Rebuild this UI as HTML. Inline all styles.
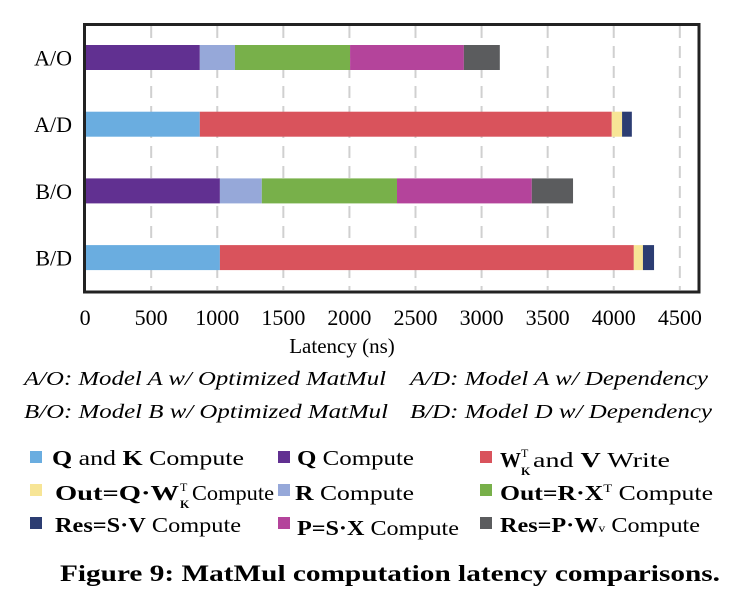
<!DOCTYPE html>
<html><head><meta charset="utf-8"><style>
html,body{margin:0;padding:0;background:#fff;}
svg, svg text{font-family:"Liberation Serif","Times New Roman",serif;}
</style></head><body>
<svg id="chart" width="756" height="606" viewBox="0 0 756 606" font-family="Liberation Serif, serif">
<g id="grid"></g>
<g id="bars"></g>
<rect x="84.5" y="24.5" width="614.5" height="267.5" fill="none" stroke="#222" stroke-width="3"/>
<g id="yl"></g>
<g id="xl"></g>
<text x="342" y="353" font-size="21" text-anchor="middle">Latency (ns)</text>
<g font-style="italic" font-size="20">
<text x="24" y="385" textLength="362" lengthAdjust="spacingAndGlyphs">A/O: Model A w/ Optimized MatMul</text>
<text x="410" y="385" textLength="298" lengthAdjust="spacingAndGlyphs">A/D: Model A w/ Dependency</text>
<text x="24" y="418" textLength="364" lengthAdjust="spacingAndGlyphs">B/O: Model B w/ Optimized MatMul</text>
<text x="410" y="418" textLength="302" lengthAdjust="spacingAndGlyphs">B/D: Model D w/ Dependency</text>
</g>
<g font-size="21">
<g><rect x="30" y="451" width="12" height="12" fill="#6aade0"/><text x="52" y="465" textLength="192" lengthAdjust="spacingAndGlyphs"><tspan font-weight="bold">Q</tspan> and <tspan font-weight="bold">K</tspan> Compute</text></g>
<g><rect x="278" y="451" width="12" height="12" fill="#613091"/><text x="297" y="465" textLength="117" lengthAdjust="spacingAndGlyphs"><tspan font-weight="bold">Q</tspan> Compute</text></g>
<g><rect x="480" y="451" width="12" height="12" fill="#d9535c"/><text x="500" y="467" font-weight="bold">W</text><text x="521" y="457" font-size="12">T</text><text x="521" y="475" font-size="12" font-weight="bold">K</text><text x="533" y="467" textLength="137" lengthAdjust="spacingAndGlyphs">and <tspan font-weight="bold">V</tspan> Write</text></g>
<g><rect x="30" y="484" width="12" height="12" fill="#f7e596"/><text x="55" y="500" font-weight="bold" textLength="124" lengthAdjust="spacingAndGlyphs">Out=Q·W</text><text x="180" y="491" font-size="12">T</text><text x="180" y="508" font-size="12" font-weight="bold">K</text><text x="192" y="500" textLength="82" lengthAdjust="spacingAndGlyphs">Compute</text></g>
<g><rect x="278" y="484" width="12" height="12" fill="#96a8d9"/><text x="295" y="500" textLength="119" lengthAdjust="spacingAndGlyphs"><tspan font-weight="bold">R</tspan> Compute</text></g>
<g><rect x="480" y="484" width="12" height="12" fill="#78b04a"/><text x="500" y="500" textLength="213" lengthAdjust="spacingAndGlyphs"><tspan font-weight="bold">Out=R·X</tspan><tspan font-size="12" dy="-8">T</tspan><tspan dy="8"> Compute</tspan></text></g>
<g><rect x="30" y="517" width="12" height="12" fill="#2c3d72"/><text x="55" y="532" textLength="186" lengthAdjust="spacingAndGlyphs"><tspan font-weight="bold">Res=S·V</tspan> Compute</text></g>
<g><rect x="278" y="517" width="12" height="12" fill="#b4449b"/><text x="297" y="535" textLength="162" lengthAdjust="spacingAndGlyphs"><tspan font-weight="bold">P=S·X</tspan> Compute</text></g>
<g><rect x="480" y="517" width="12" height="12" fill="#5b5c5e"/><text x="500" y="532" textLength="200" lengthAdjust="spacingAndGlyphs"><tspan font-weight="bold">Res=P·W</tspan><tspan font-size="12">v</tspan> Compute</text></g>
</g>
<text x="60" y="581" font-size="23" font-weight="bold" textLength="660" lengthAdjust="spacingAndGlyphs">Figure 9: MatMul computation latency comparisons.</text>
</svg>
<script>
const categories = ["A/O","A/D","B/O","B/D"];
const seriesNames = ["Q and K Compute","Q Compute","W and V Write","Out=Q·W Compute","R Compute","Out=R·X Compute","Res=S·V Compute","P=S·X Compute","Res=P·Wv Compute"];
const seriesColors = ["#6aade0","#613091","#d9535c","#f7e596","#96a8d9","#78b04a","#2c3d72","#b4449b","#5b5c5e"];
const qkCompute   = [0,868,0,1020];
const qCompute    = [868,0,1020,0];
const wvWrite     = [0,3117,0,3132];
const outQW       = [0,78,0,69];
const rCompute    = [266,0,317,0];
const outRX       = [871,0,1023,0];
const resSV       = [0,74,0,84];
const pSX         = [861,0,1020,0];
const resPW       = [272,0,312,0];
const stackOrder = [qkCompute,qCompute,rCompute,outRX,pSX,resPW,wvWrite,outQW,resSV];
const stackColorIdx = [0,1,4,5,7,8,2,3,6];
const xTicks = [0,500,1000,1500,2000,2500,3000,3500,4000,4500];

const NS="http://www.w3.org/2000/svg";
const x = v => 85.1 + v*0.13216;
const y = i => 45 + i*66.7;
const barH = 25;
function mk(tag, attrs, parent){const e=document.createElementNS(NS,tag);for(const k in attrs)e.setAttribute(k,attrs[k]);parent.appendChild(e);return e;}
const grid=document.getElementById('grid'), bars=document.getElementById('bars'), yl=document.getElementById('yl'), xl=document.getElementById('xl');
xTicks.forEach(t=>{
  if(t>0){const l=mk('line',{x1:x(t),x2:x(t),y1:26,y2:290,stroke:'#d0d0d0','stroke-width':2,'stroke-dasharray':'12,8'},grid);
  
  }
  const tx=mk('text',{x:x(t),y:325,'font-size':22,'text-anchor':'middle'},xl);
  tx.textContent=t;
  
  
});
categories.forEach((c,i)=>{
  const tx=mk('text',{x:72,y:y(i)+barH/2+8,'font-size':22,'text-anchor':'end'},yl);
  tx.textContent=c;
  
  
  let acc=0;
  stackOrder.forEach((arr,s)=>{
    const v=arr[i]; if(!v) return;
    const r=mk('rect',{x:x(acc),y:y(i),width:x(acc+v)-x(acc),height:barH,fill:seriesColors[stackColorIdx[s]]},bars);
    
    
    acc+=v;
  });
});
</script>
</body></html>
